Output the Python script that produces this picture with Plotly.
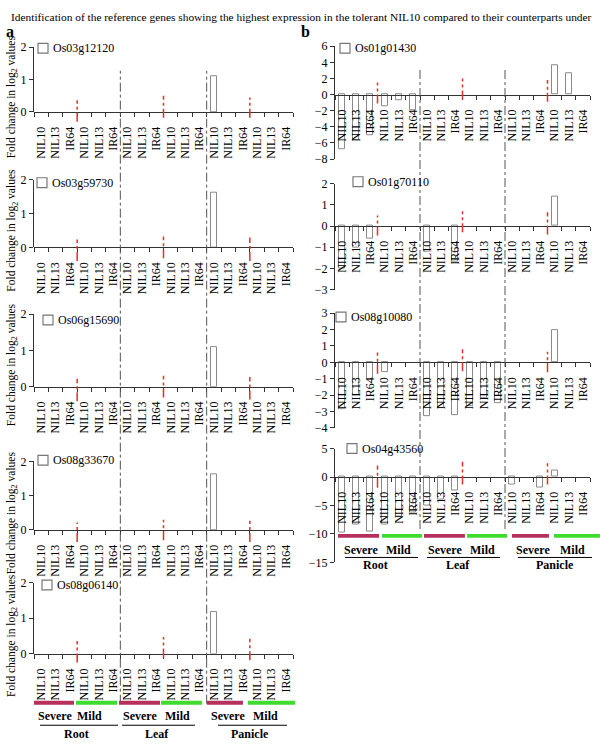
import plotly.graph_objects as go

W, H = 600, 745
SERIF = "Liberation Serif, Times New Roman, serif"

# ---------------- data ----------------
genotypes = ["NIL10", "NIL13", "IR64"] * 6          # 18 bars: Root(S,M), Leaf(S,M), Panicle(S,M)
organs = ["Root", "Leaf", "Panicle"]
stresses = ["Severe", "Mild"]

genes_a = ["Os03g12120", "Os03g59730", "Os06g15690", "Os08g33670", "Os08g06140"]
Os03g12120 = [0, 0, 0, 0, 0, 0, 0, 0, 0, 0, 0, 0, 1.10, 0, 0, 0, 0, 0]
Os03g59730 = [0, 0, 0, 0, 0, 0, 0, 0, 0, 0, 0, 0, 1.63, 0, 0, 0, 0, 0]
Os06g15690 = [0, 0, 0, 0, 0, 0, 0, 0, 0, 0, 0, 0, 1.08, 0, 0, 0, 0, 0]
Os08g33670 = [0, 0, 0, 0, 0, 0, 0, 0, 0, 0, 0, 0, 1.63, 0, 0, 0, 0, 0]
Os08g06140 = [0, 0, 0, 0, 0, 0, 0, 0, 0, 0, 0, 0, 1.17, 0, 0, 0, 0, 0]

genes_b = ["Os01g01430", "Os01g70110", "Os08g10080", "Os04g43560"]
Os01g01430 = [-6.8, -5.7, -5.0, -1.4, -0.7, -2.0, 0, 0, 0, 0, 0, 0, 0, 0, 0, 3.6, 2.7, 0]
Os01g70110 = [-2.0, -1.0, -0.6, 0, 0, 0, -1.2, 0, -1.7, 0, 0, 0, 0, 0, 0, 1.4, 0, 0]
Os08g10080 = [-2.85, -2.0, -1.0, -0.6, 0, 0, -3.3, -2.8, -3.2, -2.7, -2.2, -2.5, 0, 0, 0, 1.95, 0, 0]
Os04g43560 = [-9.8, -8.4, -9.6, -8.3, -7.0, -6.3, -5.0, -4.0, -2.4, 0, 0, 0, -1.3, 0, -1.9, 1.1, 0, 0]

title_text = ("Identification of the reference genes showing the highest expression "
              "in the tolerant NIL10 compared to their counterparts under")
ytitle_text = "Fold change in log<sub>2</sub> values"

# ---------------- layout (pixel geometry) ----------------
def fx(px):
    return px / W

def fy(py):
    return 1 - py / H

# gene, values, y range, dtick, top px, bottom px, legend box (x0,y0), red marks (top,bottom) in data units
subplots = [
    ("a", genes_a[0], Os03g12120, (0, 2), 1, 41, 107, (38, 37), [(0.36, -0.3), (0.5, -0.18), (0.45, -0.18)]),
    ("a", genes_a[1], Os03g59730, (0, 2), 1, 176, 245, (37, 174), [(0.23, -0.4), (0.32, -0.32), (0.29, -0.4)]),
    ("a", genes_a[2], Os06g15690, (0, 2), 1, 313, 387, (43, 314), [(0.22, -0.4), (0.3, -0.3), (0.27, -0.35)]),
    ("a", genes_a[3], Os08g33670, (0, 2), 1, 463, 533, (38, 457), [(0.22, -0.35), (0.3, -0.3), (0.27, -0.35)]),
    ("a", genes_a[4], Os08g06140, (0, 2), 1, 587, 659, (42, 584), [(0.36, -0.25), (0.47, -0.11), (0.42, -0.19)]),
    ("b", genes_b[0], Os01g01430, (-8, 6), 2, 40, 155, (340, 37), [(1.5, -1.1), (2.0, -0.6), (1.8, -0.9)]),
    ("b", genes_b[1], Os01g70110, (-3, 2), 1, 180, 288, (353, 173), [(0.5, -0.45), (0.7, -0.3), (0.65, -0.4)]),
    ("b", genes_b[2], Os08g10080, (-4, 3), 1, 312, 429, (336, 311), [(0.6, -0.7), (0.8, -0.55), (0.65, -0.6)]),
    ("b", genes_b[3], Os04g43560, (-15, 5), 5, 450, 566, (347, 445), [(2.0, -1.9), (2.7, -1.3), (2.4, -1.3)]),
]
xdom_px = {"a": (34, 293), "b": (335, 590)}
ytitle_center = [92, 228, 365, 516, 641]

fig = go.Figure()
shapes = []
annotations = []
layout_axes = {}
NCAT = len(genotypes)
boundaries = [3, 9, 15]


def axname(letter, i):
    return letter if i == 1 else f"{letter}{i}"


for i, (panel, gene, vals, yr, dt, top, bot, box, reds) in enumerate(subplots, start=1):
    xa, ya = axname("x", i), axname("y", i)
    fig.add_trace(go.Bar(
        x=list(range(NCAT)), y=vals, width=0.42,
        marker=dict(color="white",
                    line=dict(color="#8a8a8a", width=[1 if v != 0 else 0 for v in vals])),
        xaxis=xa, yaxis=ya, showlegend=False, name=gene,
    ))
    x0p, x1p = xdom_px[panel]
    zero_py = bot - (0 - yr[0]) / (yr[1] - yr[0]) * (bot - top)
    layout_axes[axname("xaxis", i)] = dict(
        domain=[fx(x0p), fx(x1p)], range=[-0.5, NCAT - 0.5], anchor="free",
        position=fy(zero_py), showgrid=False, zeroline=False,
        showline=True, linecolor="#333", linewidth=1,
        tickmode="array", tickvals=list(range(NCAT)), ticktext=genotypes,
        tickangle=-90, ticks="", ticklen=0, ticklabelstandoff=9,
        tickfont=dict(family=SERIF, size=12, color="black"),
        minor=dict(ticks="outside", ticklen=4, tickcolor="#333", tickmode="linear",
                   tick0=-0.5, dtick=1),
    )
    layout_axes[axname("yaxis", i)] = dict(
        domain=[fy(bot), fy(top)], range=list(yr), anchor=xa, dtick=dt,
        showgrid=False, zeroline=False, showline=True, linecolor="#333", linewidth=1,
        ticks="outside", ticklen=4, tickcolor="#333",
        tickfont=dict(family=SERIF, size=12, color="black"),
    )
    # legend box + label
    bx, by = box
    shapes.append(dict(type="rect", xref="paper", yref="paper",
                       x0=fx(bx), x1=fx(bx + 10), y0=fy(by + 10), y1=fy(by),
                       line=dict(color="#777", width=1.2), fillcolor="white"))
    annotations.append(dict(text=gene, xref="paper", yref="paper", x=fx(bx + 13), y=fy(by + 5),
                            xanchor="left", yanchor="middle", showarrow=False,
                            font=dict(family=SERIF, size=12, color="black")))
    # red severe/mild dividers
    for b, (t, bt) in zip(boundaries, reds):
        shapes.append(dict(type="line", xref=f"{xa} domain", yref=f"{ya} domain",
                           x0=b / NCAT, x1=b / NCAT,
                           y0=(bt - yr[0]) / (yr[1] - yr[0]), y1=(t - yr[0]) / (yr[1] - yr[0]),
                           line=dict(color="#e0312b", width=1.5, dash="dashdot")))

# y titles for panel a
for c in ytitle_center:
    annotations.append(dict(text=ytitle_text, xref="paper", yref="paper", x=fx(12), y=fy(c),
                            textangle=-90, showarrow=False, xanchor="center", yanchor="middle",
                            font=dict(family=SERIF, size=11.5, color="black")))

# long grey organ dividers
for xa, y0p, y1p in [("x", 65, 710), ("x6", 63, 532)]:
    for b in (6, 12):
        shapes.append(dict(type="line", xref=f"{xa} domain", yref="paper",
                           x0=b / NCAT, x1=b / NCAT, y0=fy(y1p), y1=fy(y0p),
                           line=dict(color="#555", width=1, dash="dashdot")))

# bottom key: colour bars, Severe/Mild, organ names (category-boundary units)
bottom = {
    "a": dict(bar=(707, 711), sm_y=723, line_y=732, org_y=741,
              bars=[(0, 2.78), (2.92, 5.77), (5.91, 8.76), (8.83, 11.67), (12.02, 14.52), (14.87, 18.14)],
              sev=[1.46, 7.37, 13.48], mild=[3.89, 9.94, 16.12], org=[2.92, 8.55, 15.0],
              ul=[(0.42, 5.84), (6.12, 11.19), (12.79, 17.58)]),
    "b": dict(bar=(537, 541), sm_y=553, line_y=561, org_y=569,
              bars=[(0.21, 3.11), (3.32, 6.14), (6.28, 9.17), (9.32, 12.14), (12.49, 15.10), (15.46, 18.70)],
              sev=[1.83, 7.76, 13.97], mild=[4.45, 10.44, 16.73], org=[2.89, 8.68, 15.53],
              ul=[(0.71, 5.86), (6.49, 11.64), (12.91, 18.14)]),
}
stress_colors = ["#b5305a", "#3ddc2f"]
for p, d in bottom.items():
    x0p, x1p = xdom_px[p]

    def ux(u):
        return fx(x0p + u / NCAT * (x1p - x0p))

    for k, (u0, u1) in enumerate(d["bars"]):
        shapes.append(dict(type="rect", xref="paper", yref="paper", x0=ux(u0), x1=ux(u1),
                           y0=fy(d["bar"][1]), y1=fy(d["bar"][0]),
                           fillcolor=stress_colors[k % 2], line=dict(width=0)))
    for j in range(3):
        for txt, u, yy in ((stresses[0], d["sev"][j], d["sm_y"]),
                           (stresses[1], d["mild"][j], d["sm_y"]),
                           (organs[j], d["org"][j], d["org_y"])):
            annotations.append(dict(text=f"<b>{txt}</b>", xref="paper", yref="paper",
                                    x=ux(u), y=fy(yy), xanchor="center", yanchor="middle",
                                    showarrow=False,
                                    font=dict(family=SERIF, size=12, color="black")))
        u0, u1 = d["ul"][j]
        shapes.append(dict(type="line", xref="paper", yref="paper", x0=ux(u0), x1=ux(u1),
                           y0=fy(d["line_y"]), y1=fy(d["line_y"]),
                           line=dict(color="black", width=1)))

# title and panel letters
annotations.append(dict(text=title_text, xref="paper", yref="paper", x=fx(301), y=fy(10),
                        showarrow=False, xanchor="center", yanchor="middle",
                        font=dict(family=SERIF, size=11.4, color="black")))
annotations.append(dict(text="<b>a</b>", xref="paper", yref="paper", x=fx(4), y=fy(25),
                        showarrow=False, xanchor="left", yanchor="middle",
                        font=dict(family=SERIF, size=16, color="black")))
annotations.append(dict(text="<b>b</b>", xref="paper", yref="paper", x=fx(299), y=fy(25),
                        showarrow=False, xanchor="left", yanchor="middle",
                        font=dict(family=SERIF, size=16, color="black")))

fig.update_layout(
    width=W, height=H, margin=dict(l=0, r=0, t=0, b=0),
    paper_bgcolor="white", plot_bgcolor="white", showlegend=False, bargap=0,
    shapes=shapes, annotations=annotations, **layout_axes,
)
fig.write_html("out.html", config={"displayModeBar": False},
               post_script="document.body.style.margin='0';")
